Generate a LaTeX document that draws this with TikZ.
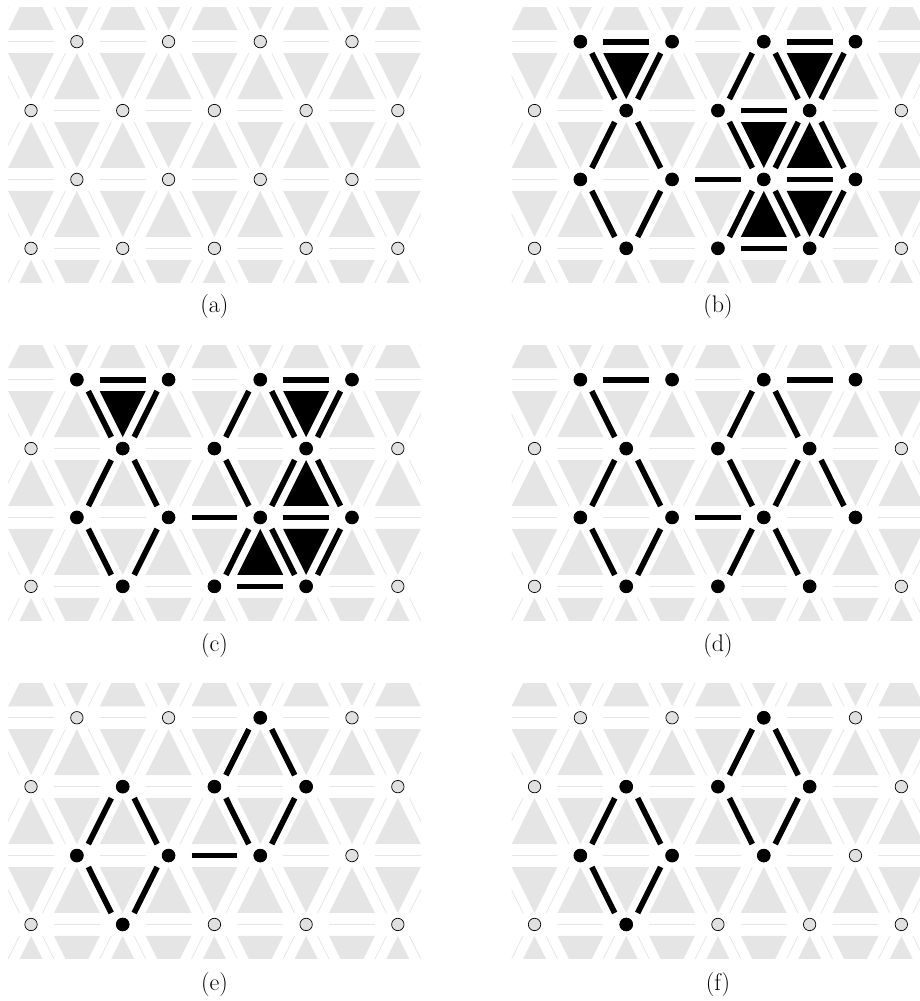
\documentclass[tikz,border=0pt]{standalone}
\definecolor{trigray}{gray}{0.9}
\definecolor{vgray}{gray}{0.88}
\definecolor{faint}{gray}{0.9}
\tikzset{
  tri/.style={fill=trigray},
  faintline/.style={draw=faint,line width=0.8pt},
  bar/.style={draw=black,line width=5.7pt,line cap=butt},
  vtxoff/.style={fill=vgray,draw=black,line width=0.7pt},
  vtxon/.style={fill=black},
  blacktri/.style={fill=black},
  captxt/.style={inner sep=0pt,font=\fontsize{24}{28}\selectfont}
}
% lattice scope: vertex (u,r) with u+r odd
\newcommand\LatScope[2]{\begin{scope}[shift={(#1+22.925,#2+34.45)},x=45.85pt,y=-68.9pt]}
\newcommand\Background{%
  \begin{scope}
  \clip (-0.5,-0.5) rectangle (8.5,3.5);
  \foreach \r in {-1,...,3}{
    \foreach \u in {-2,...,10}{
      \pgfmathtruncatemacro\pty{mod(\u+\r+20,2)}
      \ifnum\pty=1
        \path[tri] (\u,\r+1/6) -- (\u-0.5,\r+5/6) -- (\u+0.5,\r+5/6) -- cycle;
      \else
        \path[tri] (\u-0.5,\r+1/6) -- (\u+0.5,\r+1/6) -- (\u,\r+5/6) -- cycle;
      \fi
    }
  }
  \foreach \r in {-1,...,4}{
    \foreach \u in {-2,...,10}{
      \pgfmathtruncatemacro\pty{mod(\u+\r+20,2)}
      \ifnum\pty=0
        \path[faintline] (\u-0.5,\r) -- (\u+0.5,\r);
      \else
        \path[faintline] (\u+0.25,\r+1/6) -- (\u+0.75,\r+5/6);
        \path[faintline] (\u-0.25,\r+1/6) -- (\u-0.75,\r+5/6);
      \fi
    }
  }
  \end{scope}
  \foreach \r in {0,...,3}{
    \foreach \u in {0,...,8}{
      \pgfmathtruncatemacro\pty{mod(\u+\r+20,2)}
      \ifnum\pty=1
        \path[vtxoff] (\u,\r) circle[radius=6.2pt];
      \fi
    }
  }
}
\newcommand\VX[2]{\path[vtxon] (#1,#2) circle[radius=6.8pt];}
\newcommand\EH[2]{\path[bar] (#1-0.5,#2) -- (#1+0.5,#2);}
\newcommand\EDR[2]{\path[bar] (#1+0.25,#2+1/6) -- (#1+0.75,#2+5/6);}
\newcommand\EDL[2]{\path[bar] (#1-0.25,#2+1/6) -- (#1-0.75,#2+5/6);}
\newcommand\TU[2]{\path[blacktri] (#1,#2+1/6) -- (#1-0.5,#2+5/6) -- (#1+0.5,#2+5/6) -- cycle;}
\newcommand\TD[2]{\path[blacktri] (#1-0.5,#2+1/6) -- (#1+0.5,#2+1/6) -- (#1,#2+5/6) -- cycle;}
\begin{document}
\begin{tikzpicture}[x=1pt,y=-1pt]
\useasboundingbox (0,0) rectangle (920,1001);
% ---------------- (a)
\LatScope{8.1}{7.2}
  \Background
\end{scope}
% ---------------- (b)
\LatScope{511.6}{7.2}
  \Background
  \TD{2}{0}\TD{6}{0}\TD{5}{1}\TU{6}{1}\TU{5}{2}\TD{6}{2}
  \EH{2}{0}\EH{6}{0}
  \EDR{1}{0}\EDL{3}{0}\EDL{5}{0}\EDR{5}{0}\EDL{7}{0}
  \EH{5}{1}
  \EDL{2}{1}\EDR{2}{1}\EDR{4}{1}\EDL{6}{1}\EDR{6}{1}
  \EH{4}{2}\EH{6}{2}
  \EDR{1}{2}\EDL{3}{2}\EDL{5}{2}\EDR{5}{2}\EDL{7}{2}
  \EH{5}{3}
  \VX{1}{0}\VX{3}{0}\VX{5}{0}\VX{7}{0}
  \VX{2}{1}\VX{4}{1}\VX{6}{1}
  \VX{1}{2}\VX{3}{2}\VX{5}{2}\VX{7}{2}
  \VX{2}{3}\VX{4}{3}\VX{6}{3}
\end{scope}
% ---------------- (c)
\LatScope{8.1}{345.2}
  \Background
  \TD{2}{0}\TD{6}{0}\TU{6}{1}\TU{5}{2}\TD{6}{2}
  \EH{2}{0}\EH{6}{0}
  \EDR{1}{0}\EDL{3}{0}\EDL{5}{0}\EDR{5}{0}\EDL{7}{0}
  \EDL{2}{1}\EDR{2}{1}\EDR{4}{1}\EDL{6}{1}\EDR{6}{1}
  \EH{4}{2}\EH{6}{2}
  \EDR{1}{2}\EDL{3}{2}\EDL{5}{2}\EDR{5}{2}\EDL{7}{2}
  \EH{5}{3}
  \VX{1}{0}\VX{3}{0}\VX{5}{0}\VX{7}{0}
  \VX{2}{1}\VX{4}{1}\VX{6}{1}
  \VX{1}{2}\VX{3}{2}\VX{5}{2}\VX{7}{2}
  \VX{2}{3}\VX{4}{3}\VX{6}{3}
\end{scope}
% ---------------- (d)
\LatScope{511.6}{345.2}
  \Background
  \EH{2}{0}\EH{6}{0}
  \EDR{1}{0}\EDL{5}{0}\EDR{5}{0}
  \EDL{2}{1}\EDR{2}{1}\EDR{4}{1}\EDL{6}{1}\EDR{6}{1}
  \EH{4}{2}
  \EDR{1}{2}\EDL{3}{2}\EDL{5}{2}\EDR{5}{2}
  \VX{1}{0}\VX{3}{0}\VX{5}{0}\VX{7}{0}
  \VX{2}{1}\VX{4}{1}\VX{6}{1}
  \VX{1}{2}\VX{3}{2}\VX{5}{2}\VX{7}{2}
  \VX{2}{3}\VX{4}{3}\VX{6}{3}
\end{scope}
% ---------------- (e)
\LatScope{8.1}{683.3}
  \Background
  \EDL{5}{0}\EDR{5}{0}
  \EDL{2}{1}\EDR{2}{1}\EDR{4}{1}\EDL{6}{1}
  \EH{4}{2}
  \EDR{1}{2}\EDL{3}{2}
  \VX{5}{0}
  \VX{2}{1}\VX{4}{1}\VX{6}{1}
  \VX{1}{2}\VX{3}{2}\VX{5}{2}
  \VX{2}{3}
\end{scope}
% ---------------- (f)
\LatScope{511.6}{683.3}
  \Background
  \EDL{5}{0}\EDR{5}{0}
  \EDL{2}{1}\EDR{2}{1}\EDR{4}{1}\EDL{6}{1}
  \EDR{1}{2}\EDL{3}{2}
  \VX{5}{0}
  \VX{2}{1}\VX{4}{1}\VX{6}{1}
  \VX{1}{2}\VX{3}{2}\VX{5}{2}
  \VX{2}{3}
\end{scope}
% ---------------- captions
\node[captxt] (capa) at (214.4,307) {(a)};
\node[captxt] (capb) at (717.9,307) {(b)};
\node[captxt] (capc) at (214.4,645.5) {(c)};
\node[captxt] (capd) at (717.9,645.5) {(d)};
\node[captxt] (cape) at (214.4,984) {(e)};
\node[captxt] (capf) at (717.9,984) {(f)};
\end{tikzpicture}
\end{document}
